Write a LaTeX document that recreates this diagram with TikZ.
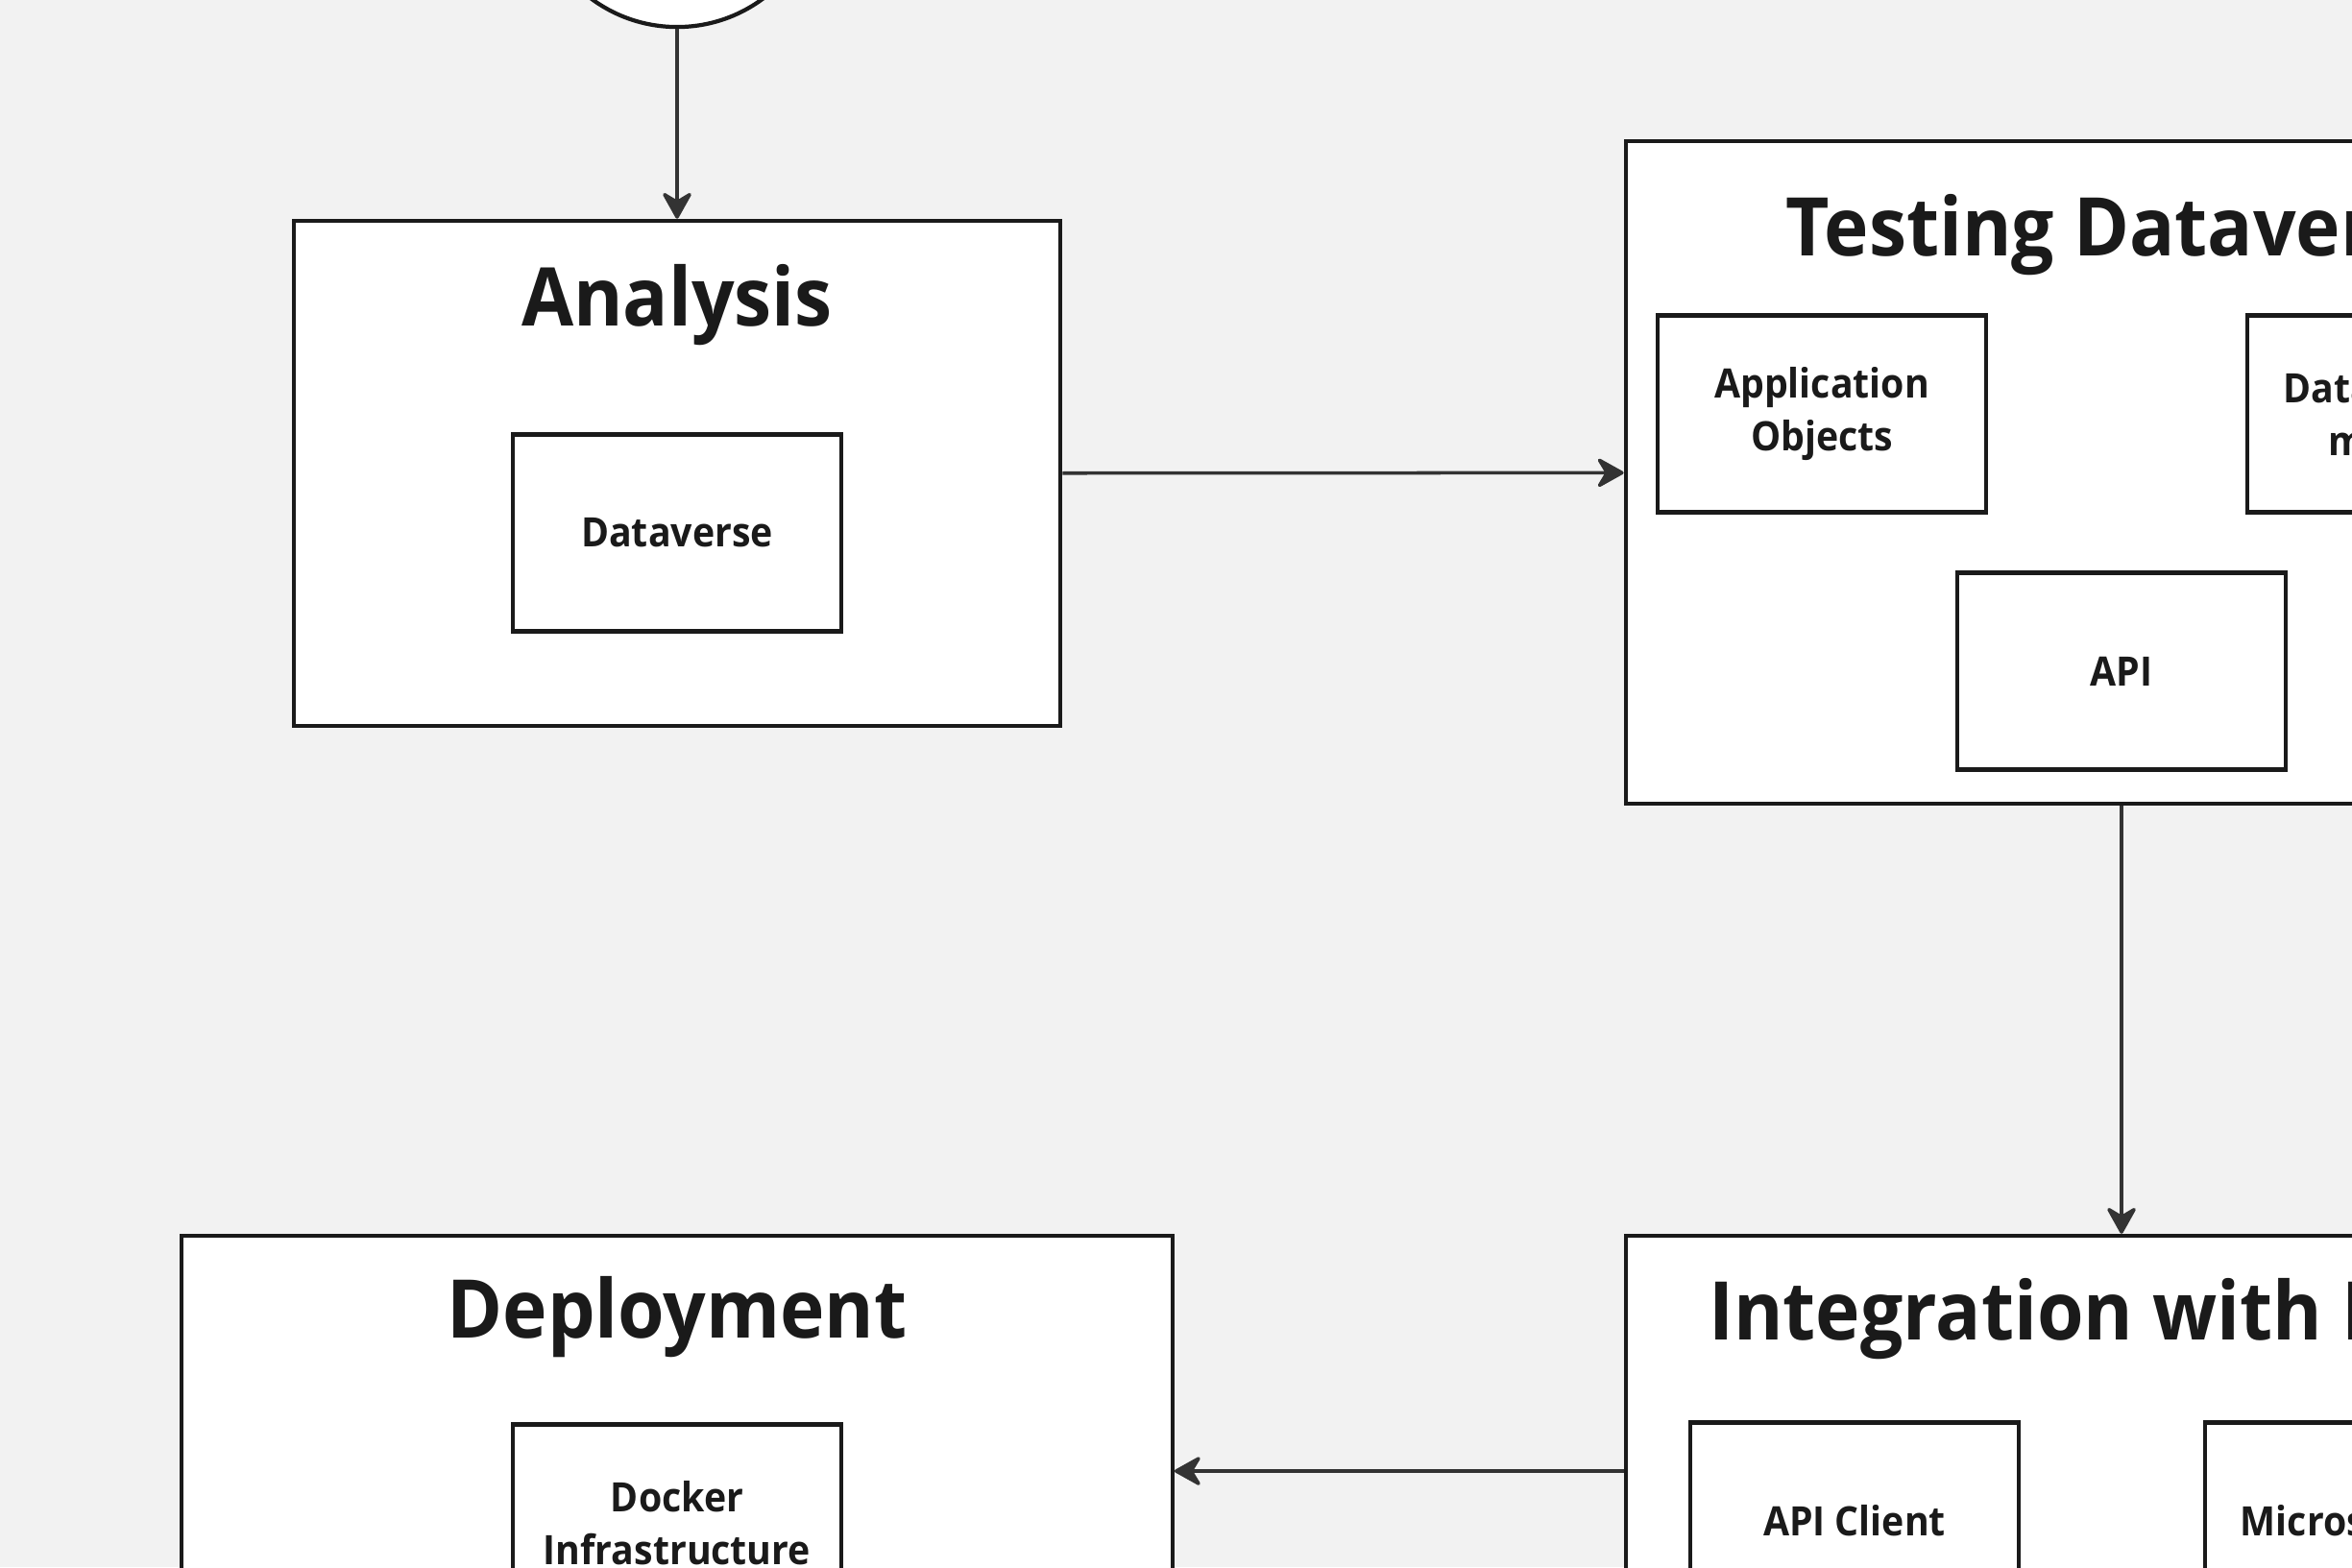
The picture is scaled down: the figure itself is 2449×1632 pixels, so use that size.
\documentclass[tikz,border=0pt]{standalone}
\usepackage{fontspec}
\setmainfont{Open Sans}[FakeStretch=0.93]
\usetikzlibrary{arrows.meta}
\definecolor{bgcol}{HTML}{F2F2F2}
\definecolor{ink}{HTML}{1A1A1A}
\definecolor{linecol}{HTML}{333333}
\tikzset{
  outerbox/.style={draw=ink,fill=white,line width=1.2pt,inner sep=0pt},
  innerbox/.style={draw=ink,fill=white,line width=1.2pt,minimum width=3.42cm,minimum height=2.05cm,
    align=center,text=ink,font=\fontsize{12}{15.5}\selectfont\bfseries},
  boxtitle/.style={anchor=base,text=ink,font=\fontsize{24}{28}\selectfont\bfseries},
  flow/.style={draw=linecol,line width=1pt,-{Stealth[length=9pt,width=10pt,inset=3pt,round]}}
}
\begin{document}
\begin{tikzpicture}[x=0.01cm,y=-0.01cm]
    \useasboundingbox (0,0) rectangle (2449,1632);
    \clip (0,0) rectangle (2449,1632);
    \fill[bgcol] (0,0) rectangle (2449,1632);
    \node[circle,draw=ink,fill=white,line width=1.2pt,minimum size=3cm] (start) at (705,-122) {};
    \node[outerbox,minimum width=7.98cm,minimum height=5.26cm] (analysis) at (705,493) {};
    \node[boxtitle] (analysisT) at (705,339) {Analysis};
    \node[innerbox] (dataverse) at (705,555) {Dataverse};
    \node[outerbox,minimum width=10.32cm,minimum height=6.89cm] (testing) at (2209,492) {};
    \node[boxtitle] (testingT) at (2209,266) {Testing Dataverse};
    \node[innerbox] (appobj) at (1897,431) {Application\\Objects};
    \node[innerbox] (datamod) at (2511,431) {Data Transfer\\methods};
    \node[innerbox] (api) at (2209,699) {API};
    \node[outerbox,minimum width=10.32cm,minimum height=4.9cm] (integration) at (2209,1532) {};
    \node[boxtitle] (integrationT) at (2209,1395) {Integration with EOSC};
    \node[innerbox] (apiclient) at (1931,1584) {API Client};
    \node[innerbox] (micro) at (2467,1584) {Microservices};
    \node[outerbox,minimum width=10.31cm,minimum height=4.9cm] (deployment) at (705,1532) {};
    \node[boxtitle] (deploymentT) at (705,1393) {Deployment};
    \node[innerbox] (docker) at (705,1586) {Docker\\Infrastructure};
    \draw[flow] (start) -- (analysis);
    \draw[flow] (analysis) -- (testing);
    \draw[flow] (testing) -- (integration);
    \draw[flow] (integration) -- (deployment);
\end{tikzpicture}
\end{document}
